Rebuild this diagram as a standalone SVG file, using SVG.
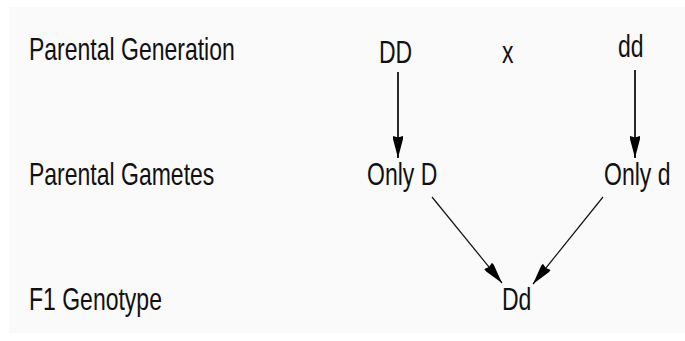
<svg xmlns="http://www.w3.org/2000/svg" width="685" height="341" viewBox="0 0 685 341">
<style>
.t{font-family:"Liberation Sans",Arial,sans-serif;font-size:23px;fill:#111;}
.c{stroke:#111;fill:none;}
.v{stroke-width:1.8;}
.d{stroke-width:1.2;}
</style>
<defs>
<marker id="ah" markerUnits="userSpaceOnUse" markerWidth="24" markerHeight="14" refX="22" refY="6" orient="auto" viewBox="0 0 24 12">
<path d="M0,1 L3,1 L22,6 L3,11 L0,11 L1.5,6 Z" fill="#000"/>
</marker>
</defs>
<rect x="0" y="0" width="685" height="341" fill="#ffffff"/>
<rect x="9" y="7" width="676" height="326" fill="#fafafa"/>
<g id="label-parental-generation"><text class="t" transform="translate(29,60) scale(1,1.35)">Parental Generation</text></g>
<g id="label-parental-gametes"><text class="t" transform="translate(29,185) scale(1,1.35)">Parental Gametes</text></g>
<g id="label-f1-genotype"><text class="t" transform="translate(29,310) scale(1,1.35)">F1 Genotype</text></g>
<g id="node-DD"><text class="t" transform="translate(379,63) scale(1,1.35)">DD</text></g>
<g id="node-x"><text class="t" transform="translate(502,63) scale(1,1.35)">x</text></g>
<g id="node-dd"><text class="t" transform="translate(618,57) scale(1,1.35)">dd</text></g>
<g id="node-onlyD"><text class="t" transform="translate(367,185) scale(1,1.35)">Only D</text></g>
<g id="node-onlyd"><text class="t" transform="translate(604,185) scale(1,1.35)">Only d</text></g>
<g id="node-Dd"><text class="t" transform="translate(502,310) scale(1,1.35)">Dd</text></g>
<g id="connectors">
<line class="c v" x1="398" y1="72" x2="398" y2="158" marker-end="url(#ah)"/>
<line class="c v" x1="635" y1="70" x2="635" y2="158" marker-end="url(#ah)"/>
<line class="c d" x1="432" y1="197" x2="502" y2="283" marker-end="url(#ah)"/>
<line class="c d" x1="603" y1="197" x2="533" y2="284" marker-end="url(#ah)"/>
</g>
</svg>
